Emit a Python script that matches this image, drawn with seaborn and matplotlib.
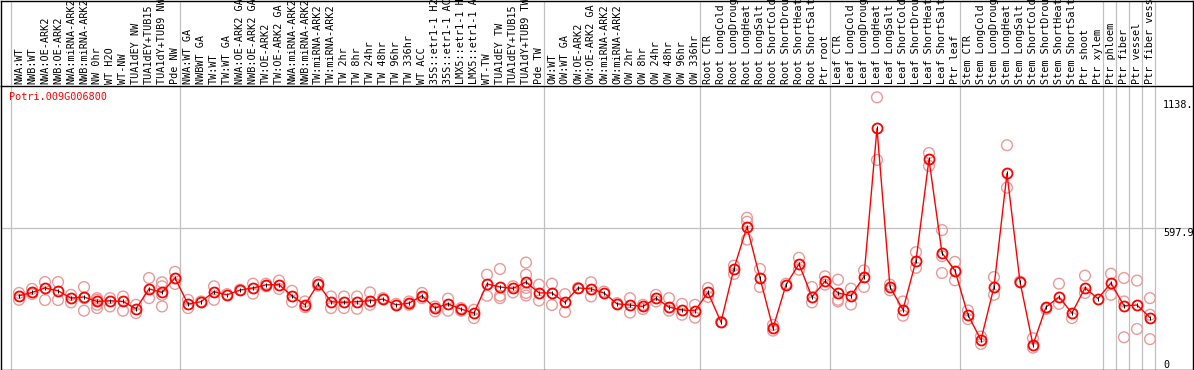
import matplotlib
matplotlib.use("Agg")
import matplotlib.pyplot as plt
import pandas as pd
import seaborn as sns

# sample labels, left to right
labels = [
    "NWA:WT", "NWB:WT", "NWA:OE-ARK2", "NWB:OE-ARK2", "NWA:miRNA-ARK2", "NWB:miRNA-ARK2",
    "NW 0hr", "WT H2O", "WT-NW", "TUA1dEY NW", "TUA1dEY+TUB15", "TUA1dY+TUB9 NW", "Pde NW",
    "NWA:WT GA", "NWBWT GA", "TW:WT", "TW:WT GA", "NWA:OE-ARK2 GA", "NWB:OE-ARK2 GA",
    "TW:OE-ARK2", "TW:OE-ARK2 GA", "NWA:miRNA-ARK2", "NWB:miRNA-ARK2", "TW:miRNA-ARK2",
    "TW:miRNA-ARK2", "TW 2hr", "TW 8hr", "TW 24hr", "TW 48hr", "TW 96hr", "TW 336hr",
    "WT ACC", "35S::etr1-1 H2", "35S::etr1-1 AC", "LMX5::etr1-1 H", "LMX5::etr1-1 A",
    "WT-TW", "TUA1dEY TW", "TUA1dEY+TUB15", "TUA1dY+TUB9 TW", "Pde TW",
    "OW:WT", "OW:WT GA", "OW:OE-ARK2", "OW:OE-ARK2 GA", "OW:miRNA-ARK2", "OW:miRNA-ARK2",
    "OW 2hr", "OW 8hr", "OW 24hr", "OW 48hr", "OW 96hr", "OW 336hr",
    "Root CTR", "Root LongCold", "Root LongDroug", "Root LongHeat", "Root LongSalt",
    "Root ShortCold", "Root ShortDrou", "Root ShortHeat", "Root ShortSalt", "Ptr root",
    "Leaf CTR", "Leaf LongCold", "Leaf LongDroug", "Leaf LongHeat", "Leaf LongSalt",
    "Leaf ShortCold", "Leaf ShortDrou", "Leaf ShortHeat", "Leaf ShortSalt", "Ptr leaf",
    "Stem CTR", "Stem LongCold", "Stem LongDroug", "Stem LongHeat", "Stem LongSalt",
    "Stem ShortCold", "Stem ShortDrou", "Stem ShortHeat", "Stem ShortSalt", "Ptr shoot",
    "Ptr xylem", "Ptr phloem", "Ptr fiber", "Ptr vessel", "Ptr fiber vess",
]

# mean expression per sample
means = [
    311, 325, 344, 332, 301, 306, 287, 290, 287, 256, 340, 325, 386,
    276, 286, 328, 315, 335, 344, 357, 358, 311, 273, 361, 286, 283, 286, 290,
    297, 273, 280, 311, 259, 277, 255, 238, 361, 348, 342, 369, 323,
    323, 283, 344, 340, 323, 277, 272, 266, 301, 263, 251, 248,
    325, 200, 426, 602, 386, 174, 357, 445, 306, 372,
    323, 311, 392, 1017, 348, 252, 459, 886, 492, 417,
    230, 125, 348, 827, 371, 104, 263, 306, 238, 344, 299,
    365, 269, 272, 219,
]

# individual replicates per sample
reps = [
    [323, 294], [340, 318], [369, 293], [369, 293], [315, 283], [348, 301, 248],
    [301, 294, 273, 259], [301, 266], [308, 248], [273, 238], [386, 301],
    [368, 351, 315, 266], [412, 361],
    [294, 259], [287], [351, 294], [318], [337], [362, 320], [362, 351], [375, 340],
    [332, 285], [287, 263], [368, 354], [308, 259], [308, 259], [308, 256], [325, 273],
    [301], [277], [287, 273], [323, 301], [266, 245], [299, 248], [259, 248], [252, 217],
    [400, 311], [424, 311, 301], [351, 325], [451, 400, 344, 323, 312], [358, 291],
    [362, 272], [318, 243], [344], [368, 308], [329], [280], [301, 240], [273, 255],
    [315, 287], [301, 248], [277, 231], [273, 219],
    [344, 306], [200], [438, 403], [640, 623, 548], [424, 348], [188, 164], [362],
    [471, 421], [348, 283], [393, 358],
    [379, 294, 287], [341, 274], [418, 348], [1148, 884], [358, 334], [287, 227],
    [495, 429], [913, 859], [588, 478, 407], [454, 376],
    [249, 213], [139, 108], [390, 315], [946, 767], [371], [132, 92], [255],
    [362, 277], [217], [396, 323], [],
    [404, 315], [386, 287, 136], [375, 171], [301, 231, 128],
]

# first index of each block (separators drawn just left of these)
group_starts = [0, 13, 41, 53, 63, 73, 84, 85, 86, 87, 88]

gene = "Potri.009G006800"
y_max = 1195.8
y_marks = [0, 597.9, 1138]
y_mark_labels = ["0", "597.9", "1138."]

df_mean = pd.DataFrame({"idx": range(len(means)), "expr": means})
df_rep = pd.DataFrame(
    [(i, v) for i, vals in enumerate(reps) for v in vals], columns=["idx", "expr"]
)

W, H = 1194, 370
fig = plt.figure(figsize=(W / 100, H / 100), dpi=100)
ax = fig.add_axes([1 / W, 0.5 / H, 1192 / W, 283.5 / H])
head = fig.add_axes([1 / W, 284 / H, 1192 / W, 85.5 / H], facecolor="none")

mono = "DejaVu Sans Mono"
grey = "#c0c0c0"

for a in (ax, head):
    a.set_xlim(-1.385, 90.31)
    for g in group_starts:
        a.axvline(g - 0.6, color=grey, lw=0.9, zorder=0)
    for s in a.spines.values():
        s.set_color("black")
        s.set_linewidth(1.0)

head.set_ylim(0, 1)
head.set_xticks([])
head.set_yticks([])
head.spines["bottom"].set_visible(False)

ax.set_ylim(0, y_max)
ax.axhline(y_marks[1], color=grey, lw=0.9, zorder=0)

sns.scatterplot(data=df_rep, x="idx", y="expr", marker="o", s=60,
                facecolor="none", edgecolor="#eb9a9a", linewidth=1.0,
                ax=ax, zorder=2, legend=False)
sns.lineplot(data=df_mean, x="idx", y="expr", color="red", lw=1.0,
             marker="o", markersize=7.2, markerfacecolor="none",
             markeredgecolor="red", markeredgewidth=1.3, ax=ax, zorder=3)
ax.plot(df_mean["idx"], df_mean["expr"], ls="none", marker="|", ms=3,
        mew=0.7, color="black", zorder=4)

ax.xaxis.tick_top()
ax.set_xticks(range(len(labels)))
ax.set_xticklabels(labels, rotation=90, fontsize=7.3, family=mono)
ax.tick_params(axis="x", length=0, pad=1.5)
ax.set_yticks([])
ax.set_xlabel("")
ax.set_ylabel("")

for v, t in zip(y_marks, y_mark_labels):
    ax.text(88.0, v, t, fontsize=7.3, family=mono,
            va="bottom" if v == 0 else "top", ha="left")

ax.text(0.0067, 0.961, gene, transform=ax.transAxes, color="red",
        fontsize=7.3, family=mono, va="center", ha="left")

fig.savefig("out.png", dpi=100)
